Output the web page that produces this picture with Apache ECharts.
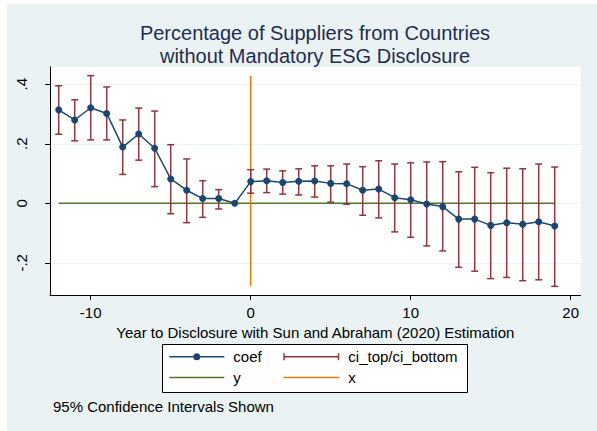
<!DOCTYPE html>
<html>
<head>
<meta charset="utf-8">
<script src="https://cdn.jsdelivr.net/npm/echarts@6/dist/echarts.min.js"></script>
<style>
  html, body { margin: 0; padding: 0; background: #ffffff; }
  #chart { width: 597px; height: 431px; }
</style>
</head>
<body>
<div id="chart"></div>
<script>
// ---- data ----
const years = [-12, -11, -10, -9, -8, -7, -6, -5, -4, -3, -2, -1,
               0, 1, 2, 3, 4, 5, 6, 7, 8, 9, 10, 11, 12, 13, 14, 15, 16, 17, 18, 19];
const coef = [0.314, 0.280, 0.321, 0.302, 0.189, 0.233, 0.185, 0.082, 0.044, 0.016, 0.016, 0.000,
              0.073, 0.076, 0.070, 0.074, 0.075, 0.067, 0.066, 0.044, 0.048, 0.019, 0.012, -0.002,
              -0.011, -0.053, -0.053, -0.074, -0.065, -0.070, -0.062, -0.076];
const ciTop = [0.395, 0.348, 0.429, 0.391, 0.280, 0.320, 0.310, 0.197, 0.149, 0.076, 0.046, null,
               0.113, 0.115, 0.109, 0.116, 0.126, 0.126, 0.132, 0.123, 0.143, 0.132, 0.136, 0.139,
               0.140, 0.106, 0.121, 0.103, 0.118, 0.116, 0.132, 0.122];
const ciBottom = [0.232, 0.210, 0.213, 0.213, 0.097, 0.145, 0.056, -0.035, -0.065, -0.047, -0.019, null,
                  0.034, 0.036, 0.031, 0.028, 0.021, 0.004, -0.003, -0.040, -0.049, -0.096, -0.114, -0.143,
                  -0.160, -0.215, -0.228, -0.253, -0.249, -0.260, -0.257, -0.279];
const zeroLineX = [-12, 19];
const zeroLineY = [0, 0];
const eventLineX = [0, 0];
const xTicks = [-10, 0, 10, 20];
const yTicks = [-0.2, 0, 0.2, 0.4];
const titleText = 'Percentage of Suppliers from Countries\nwithout Mandatory ESG Disclosure';
const xTitle = 'Year to Disclosure with Sun and Abraham (2020) Estimation';
const noteText = '95% Confidence Intervals Shown';
const seriesNames = ['coef', 'ci_top/ci_bottom', 'y', 'x'];

// ---- styles ----
const NAVY = '#1a476f', MAROON = '#90353b', GREEN = '#55752f', ORANGE = '#e37e00';
const BG = '#eaf2f3';
const FONT = '"Liberation Sans", Arial, Helvetica, sans-serif';

const coefData = years.map((y, i) => [y, coef[i]]);
const ciData = [];
years.forEach((y, i) => { if (ciTop[i] !== null && ciBottom[i] !== null) ciData.push([y, ciTop[i], ciBottom[i]]); });
const ciMax = Math.max(...ciData.map(d => d[1]));
const ciMin = Math.min(...ciData.map(d => d[2]));
const zeroData = zeroLineX.map((x, i) => [x, zeroLineY[i]]);
const eventData = [[eventLineX[0], ciMin], [eventLineX[1], ciMax]];

function fmtY(v) {
  if (Math.abs(v) < 1e-9) return '0';
  const s = String(Math.abs(+v.toFixed(3))).replace(/^0/, '');
  return (v < 0 ? '-' : '') + s;
}

const coefIcon = 'path://M0,2.75h24v1.5h-24z M31,2.75h24v1.5h-24z M24,3.5a3.5,3.5 0 1,1 7,0a3.5,3.5 0 1,1 -7,0z';
const ciIcon = 'path://M0,0h1.5v7h-1.5z M1.5,2.75h53v1.5h-53z M54.5,0h1.5v7h-1.5z';
const lineIcon = 'path://M0,0h55v1.5h-55z';

function legendAt(name, icon, left, top, w) {
  return {
    data: [{ name: name, icon: icon }],
    left: left, top: top, padding: 0,
    itemWidth: w, itemHeight: 18,
    selectedMode: false,
    itemStyle: { borderWidth: 0 },
    textStyle: { fontFamily: FONT, fontSize: 15, color: '#000', padding: [0, 0, 0, 4] }
  };
}

const chart = echarts.init(document.getElementById('chart'), null, { renderer: 'svg' });
chart.setOption({
  animation: false,
  graphic: [
    { type: 'rect', z: -10, shape: { x: 7, y: 4, width: 590, height: 427 }, style: { fill: BG } },
    { type: 'rect', z: 1, shape: { x: 162.5, y: 344.5, width: 305, height: 48 },
      style: { fill: '#ffffff', stroke: '#000000', lineWidth: 1 } }
  ],
  title: [
    { text: titleText, left: 315, top: 22, padding: 0, textAlign: 'center',
      textStyle: { fontFamily: FONT, fontSize: 20, fontWeight: 'normal', color: '#1f2d51', lineHeight: 22.5 } },
    { text: noteText, left: 53, top: 399, padding: 0,
      textStyle: { fontFamily: FONT, fontSize: 15, fontWeight: 'normal', color: '#000' } }
  ],
  legend: [
    legendAt(seriesNames[0], coefIcon, 169.3, 349.3, 55),
    legendAt(seriesNames[1], ciIcon, 283.3, 349.3, 56),
    legendAt(seriesNames[2], lineIcon, 169.3, 370, 55),
    legendAt(seriesNames[3], lineIcon, 283.3, 370, 56)
  ],
  grid: { left: 50, right: 16.3, top: 66.7, bottom: 136, show: true, backgroundColor: '#ffffff', borderWidth: 0 },
  xAxis: {
    type: 'value', min: -12.544, max: 20.625,
    name: xTitle, nameLocation: 'middle', nameGap: 25,
    nameTextStyle: { fontFamily: FONT, fontSize: 15, color: '#000' },
    axisLine: { show: true, onZero: false, lineStyle: { color: '#000', width: 1 } },
    axisTick: { show: true, customValues: xTicks, length: 5, lineStyle: { color: '#000' } },
    axisLabel: { customValues: xTicks, margin: 10, fontFamily: FONT, fontSize: 15, color: '#000' },
    splitLine: { show: false }
  },
  yAxis: {
    type: 'value', min: -0.308, max: 0.459,
    axisLine: { show: true, onZero: false, lineStyle: { color: '#000', width: 1 } },
    axisTick: { show: true, customValues: yTicks, length: 5, lineStyle: { color: '#000' } },
    axisLabel: { customValues: yTicks, rotate: 90, margin: 21, fontFamily: FONT, fontSize: 15, color: '#000', formatter: fmtY },
    splitLine: { show: true, lineStyle: { color: BG, width: 1 } }
  },
  series: [
    { name: seriesNames[2], type: 'line', data: zeroData, symbol: 'none', color: GREEN,
      lineStyle: { color: GREEN, width: 1.5 }, itemStyle: { color: GREEN }, z: 2 },
    { name: seriesNames[3], type: 'line', data: eventData, symbol: 'none', color: ORANGE,
      lineStyle: { color: ORANGE, width: 1.5 }, itemStyle: { color: ORANGE }, z: 2 },
    { name: seriesNames[1], type: 'custom', data: ciData, color: MAROON, itemStyle: { color: MAROON },
      encode: { x: 0, y: [1, 2] }, z: 3,
      renderItem: function (params, api) {
        const x = api.value(0);
        const pt = api.coord([x, api.value(1)]);
        const pb = api.coord([x, api.value(2)]);
        const hw = 3.5;
        const st = { stroke: MAROON, lineWidth: 1.5 };
        return { type: 'group', children: [
          { type: 'line', shape: { x1: pt[0], y1: pt[1], x2: pb[0], y2: pb[1] }, style: st },
          { type: 'line', shape: { x1: pt[0] - hw, y1: pt[1], x2: pt[0] + hw, y2: pt[1] }, style: st },
          { type: 'line', shape: { x1: pb[0] - hw, y1: pb[1], x2: pb[0] + hw, y2: pb[1] }, style: st }
        ] };
      }
    },
    { name: seriesNames[0], type: 'line', data: coefData, symbol: 'circle', symbolSize: 7, color: NAVY,
      lineStyle: { color: NAVY, width: 1.5 }, itemStyle: { color: NAVY }, z: 4 }
  ]
});
</script>
</body>
</html>
